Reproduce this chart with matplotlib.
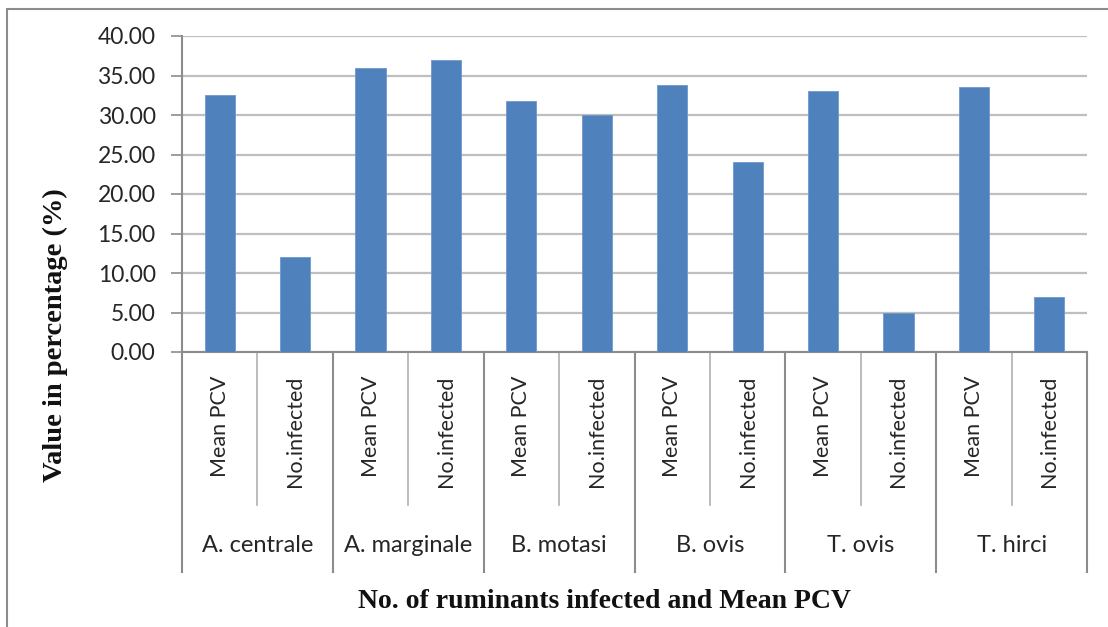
import numpy as np
import matplotlib.pyplot as plt
from matplotlib.patches import Rectangle

species = ['A. centrale', 'A. marginale', 'B. motasi', 'B. ovis', 'T. ovis', 'T. hirci']
measures = ['Mean PCV', 'No.infected']
mean_pcv = [32.5, 35.9, 31.8, 33.8, 33.0, 33.6]
no_infected = [12.0, 37.0, 30.0, 24.0, 5.0, 7.0]

values = []
for m, n in zip(mean_pcv, no_infected):
    values += [m, n]
x = np.arange(len(values))

bar_color = '#4F81BD'
axis_color = '#8C8C8C'
text_color = '#262626'
sans = ['Lato', 'DejaVu Sans']
serif = ['Liberation Serif', 'DejaVu Serif']

fig = plt.figure(figsize=(11.08, 6.27), dpi=100)
ax = fig.add_axes([182/1108, 1-352/627, (1087-182)/1108, 316/627])

# frame around the whole chart (only top/left edges fall inside the image)
fig.patches.append(Rectangle((7/1108, -0.1), 1.2, 1-9/627+0.1,
                             transform=fig.transFigure, fill=False,
                             edgecolor='#8C8C8C', linewidth=1.5))

ax.bar(x, values, width=0.4, color=bar_color, edgecolor='#6E98CC',
       linewidth=0.6, zorder=3)

ax.set_xlim(-0.5, len(values) - 0.5)
ax.set_ylim(0, 40)
ax.set_yticks(np.arange(0, 41, 5))
ax.set_yticklabels(['%.2f' % v for v in np.arange(0, 41, 5)],
                   fontsize=16.5, color=text_color, family=sans)
ax.yaxis.grid(True, color='#BFBFBF', linewidth=1.6, zorder=0)
ax.tick_params(axis='y', length=8, width=1.2, color=axis_color, pad=11)
ax.set_xticks([])

for side in ['top', 'right']:
    ax.spines[side].set_visible(False)
ax.spines['left'].set_color(axis_color)
ax.spines['left'].set_linewidth(1.5)
ax.spines['bottom'].set_color(axis_color)
ax.spines['bottom'].set_linewidth(1.5)

trans = ax.get_xaxis_transform()
sub_bottom = (352 - 505) / 316
grp_bottom = (352 - 572) / 316

# two-level category axis: separators and labels
for i in range(len(values) + 1):
    xb = i - 0.5
    if i % 2 == 0:
        ax.plot([xb, xb], [0, grp_bottom], transform=trans, color=axis_color,
                linewidth=1.5, clip_on=False)
    else:
        ax.plot([xb, xb], [0, sub_bottom], transform=trans, color='#B0B0B0',
                linewidth=1.2, clip_on=False)

for i, v in enumerate(values):
    ax.text(i, (352 - 376) / 316, measures[i % 2], transform=trans,
            rotation=90, ha='center', va='top', fontsize=15.5,
            color=text_color, family=sans)

for k, name in enumerate(species):
    ax.text(2 * k + 0.5, (352 - 545) / 316, name, transform=trans,
            ha='center', va='center', fontsize=17, color=text_color,
            family=sans)

fig.text(604/1108, 1-602/627, 'No. of ruminants infected and Mean PCV',
         ha='center', va='center', fontsize=20, fontweight='bold',
         family=serif, color='#111111')
fig.text(55/1108, 1-335/627, 'Value in percentage (%)', rotation=90,
         ha='center', va='center', fontsize=20.5, fontweight='bold',
         family=serif, color='#111111')

fig.savefig('out.png', dpi=100)
